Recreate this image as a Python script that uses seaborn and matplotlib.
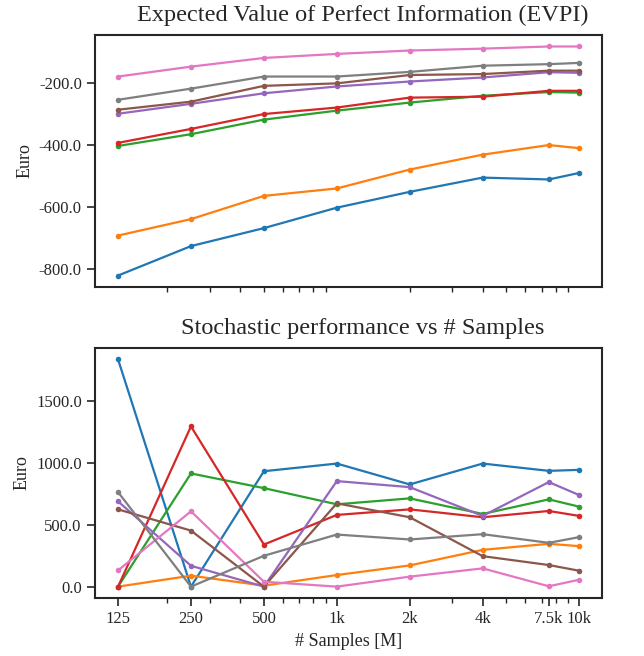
import matplotlib
matplotlib.use("Agg")
import matplotlib.pyplot as plt
import seaborn as sns
import pandas as pd
import numpy as np
from matplotlib.ticker import FormatStrFormatter

samples = [125, 250, 500, 1000, 2000, 4000, 7500, 10000]
tick_labels = ["125", "250", "500", "1k", "2k", "4k", "7.5k", "10k"]
series_names = ["S1", "S2", "S3", "S4", "S5", "S6", "S7", "S8"]

evpi_s1 = [-820, -725, -667, -601, -550, -504, -510, -489]
evpi_s2 = [-691, -638, -563, -539, -478, -430, -399, -409]
evpi_s3 = [-402, -364, -317, -288, -262, -240, -228, -230]
evpi_s4 = [-392, -347, -299, -278, -246, -243, -224, -224]
evpi_s5 = [-298, -266, -232, -210, -194, -181, -164, -166]
evpi_s6 = [-285, -259, -208, -200, -173, -170, -159, -159]
evpi_s7 = [-178, -146, -118, -105, -94, -88, -81, -81]
evpi_s8 = [-253, -217, -178, -178, -163, -143, -138, -134]

perf_s1 = [1841, 0, 935, 997, 828, 997, 938, 946]
perf_s2 = [0, 89, 8, 94, 172, 298, 347, 328]
perf_s3 = [0, 917, 798, 667, 715, 589, 707, 648]
perf_s4 = [0, 1298, 341, 581, 626, 562, 613, 573]
perf_s5 = [691, 169, 0, 855, 806, 573, 847, 742]
perf_s6 = [626, 454, 0, 675, 562, 247, 175, 129]
perf_s7 = [132, 610, 40, 0, 81, 148, 3, 56]
perf_s8 = [766, 0, 250, 422, 382, 425, 355, 401]

evpi = [evpi_s1, evpi_s2, evpi_s3, evpi_s4, evpi_s5, evpi_s6, evpi_s7, evpi_s8]
perf = [perf_s1, perf_s2, perf_s3, perf_s4, perf_s5, perf_s6, perf_s7, perf_s8]


def long_df(values):
    rows = []
    for name, vals in zip(series_names, values):
        for s, v in zip(samples, vals):
            rows.append({"samples": s, "value": v, "series": name})
    return pd.DataFrame(rows)


sns.set_style("ticks")
plt.rcParams["font.family"] = ["Liberation Serif", "DejaVu Serif"]
plt.rcParams["axes.unicode_minus"] = False

fig = plt.figure(figsize=(6.44, 6.56), dpi=100)
ax1 = fig.add_axes([0.1475, 0.5625, 0.935 - 0.1475, 0.9466 - 0.5625])
ax2 = fig.add_axes([0.1475, 0.0884, 0.935 - 0.1475, 0.4695 - 0.0884])

palette = sns.color_palette("tab10", 8)
for ax, vals, title in [(ax1, evpi, "Expected Value of Perfect Information (EVPI)"),
                        (ax2, perf, "Stochastic performance vs # Samples")]:
    sns.lineplot(data=long_df(vals), x="samples", y="value", hue="series",
                 palette=palette, marker="o", markersize=4, markeredgewidth=0,
                 linewidth=1.6, legend=False, ax=ax)
    ax.set_xscale("log")
    ax.set_title(title, fontsize=17.5, pad=10, x=0.527)
    ax.set_ylabel("Euro", fontsize=13)
    ax.yaxis.set_major_formatter(FormatStrFormatter("%.1f"))
    ax.tick_params(axis="both", which="major", length=6, width=1.2, labelsize=12)
    ax.tick_params(axis="both", which="minor", length=3.5, width=1.0)
    for sp in ax.spines.values():
        sp.set_linewidth(1.5)

ax1.set_xticks([])
ax1.set_xlabel("")
ax1.set_yticks([-800, -600, -400, -200])
ax2.set_xticks(samples)
ax2.set_xticklabels(tick_labels)
ax2.set_yticks([0, 500, 1000, 1500])
ax2.set_xlabel("# Samples [M]", fontsize=13)

fig.savefig("out.png", dpi=100)
